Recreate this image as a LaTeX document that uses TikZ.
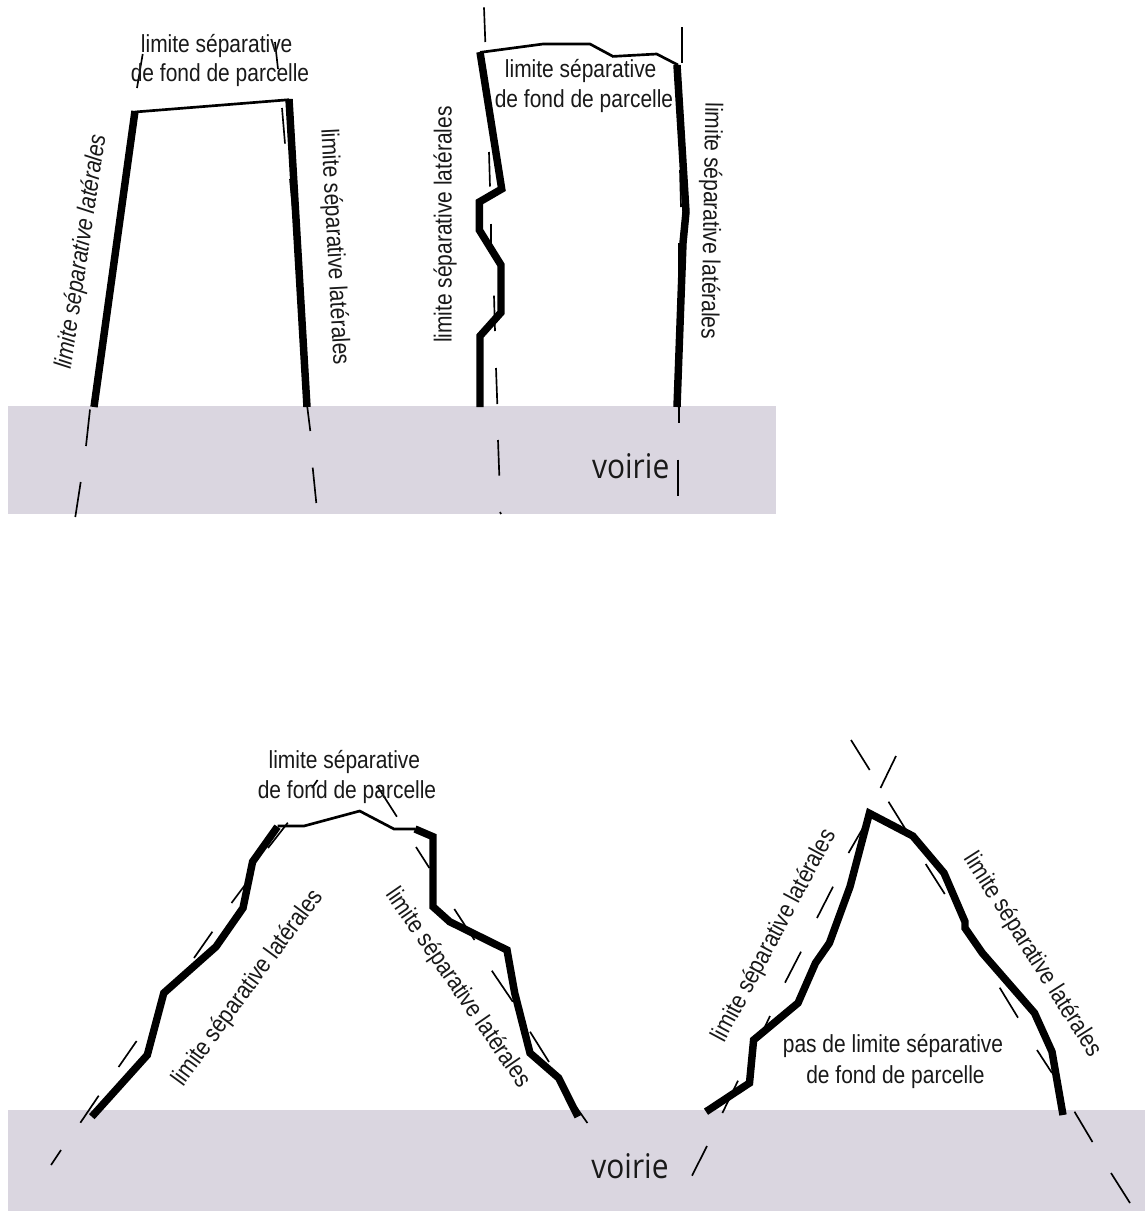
\documentclass[tikz,border=0pt]{standalone}
\usepackage{fontspec}
\setmainfont{Liberation Sans}
\newfontfamily\narrowfont[FakeStretch=0.85]{Liberation Sans}
\newfontfamily\voiriefont[FakeStretch=0.88]{Open Sans}
\definecolor{road}{HTML}{DAD6E0}
\tikzset{
  road/.style={fill=road,draw=none},
  wall/.style={draw=black,line width=5.6pt,line join=miter,miter limit=3},
  fondline/.style={draw=black,line width=2pt,line join=miter},
  tick/.style={draw=black,line width=1.25pt},
  lab/.style={font=\narrowfont\fontsize{18.5pt}{20pt}\selectfont,inner sep=0pt,text=black!90},
  vlab/.style={font=\voiriefont\fontsize{25.5pt}{28pt}\selectfont,inner sep=0pt,text=black!90}
}
\begin{document}
\begin{tikzpicture}[x=0.75pt,y=-0.75pt]
\useasboundingbox (0,0) rectangle (1145,1211);
\fill[white] (0,0) rectangle (1145,1211);
\fill[road] (8,406) rectangle (776,514);
\fill[road] (8,1110) rectangle (1145,1211);

% parcel 1
\draw[fondline] (135,112) -- (289,99.7);
\draw[wall] (135,111) -- (94,407);
\draw[wall] (289,99) -- (307,407);
\foreach \ax/\ay/\bx/\by in {142.7/54/137/88, 275/42/278/69, 282/108/285/143.6, 290/179/293.5/216,
  90/409.5/86/446, 80.7/482/75.3/517, 307.3/407/310.3/431, 312.7/467.6/316.3/503}
  {\draw[tick] (\ax,\ay) -- (\bx,\by);}
\node[lab] (a1) at (216.7,46) {limite séparative};
\node[lab] (a2) at (220,75) {de fond de parcelle};
\node[lab,rotate=81.5,font=\narrowfont\itshape\fontsize{18.5pt}{20pt}\selectfont] (a3) at (81.7,251.7) {limite séparative latérales};
\node[lab,rotate=-87] (a4) at (334,247) {limite séparative latérales};

% parcel 2
\draw[fondline] (480,52.4) -- (543,44) -- (590,44) -- (613,56.4) -- (656.7,54) -- (678,65);
\draw[wall] (480,52) -- (501.7,189) -- (479.3,202) -- (479.3,230) -- (501,265) -- (501,312.5) -- (480,336) -- (480,407);
\draw[wall] (677,65) -- (686,212) -- (683,243) -- (677,407);
\foreach \ax/\ay/\bx/\by in {484/7.4/485.3/42, 682/27/682/62.5, 489/152/490/186.5, 491.3/223.6/491.3/248,
  494/295.6/495/331, 496/368/497.3/404, 498/440/499.3/475.7, 500/512/501/514,
  678.7/407/678.7/423, 678/459.5/678/495.6, 680/170/681/207, 679/243/679/280}
  {\draw[tick] (\ax,\ay) -- (\bx,\by);}
\node[lab] (b1) at (580.7,71) {limite séparative};
\node[lab] (b2) at (584,100.7) {de fond de parcelle};
\node[lab,rotate=90] (b3) at (445,224.7) {limite séparative latérales};
\node[lab,rotate=-91] (b4) at (710,221) {limite séparative latérales};
\node[vlab] (v1) at (630.7,466) {voirie};

% parcel 3
\draw[fondline] (277.5,826) -- (304,826) -- (359.7,811) -- (394,829) -- (415,829);
\draw[wall] (91.8,1116.7) -- (147.3,1055) -- (163.8,993) -- (216,946.7) -- (243,908) -- (252.6,861.7) -- (277.5,826.7);
\draw[wall] (415,829) -- (433,836.7) -- (433,906.7) -- (449.7,921.7) -- (507,950) -- (514.7,993) -- (530,1053) -- (558.7,1078) -- (578,1116.7);
\foreach \ax/\ay/\bx/\by in {80.4/1122.7/98.7/1095.7, 51/1165/61/1150, 118.6/1067/136.6/1041, 194/958/212.4/931.7,
  231.5/903/245/885, 268/848/287.8/822.7, 312/788/317.6/780, 377.7/786.7/396.9/816.7,
  416/847/429.4/868, 454.3/909/474.5/940, 491.8/970.7/512.8/1001.7, 530/1031.7/549/1062, 576/1106.7/587.4/1123}
  {\draw[tick] (\ax,\ay) -- (\bx,\by);}
\node[lab] (c1) at (344.4,761.7) {limite séparative};
\node[lab] (c2) at (347,792.3) {de fond de parcelle};
\node[lab,rotate=53.7] (c3) at (248,988) {limite séparative latérales};
\node[lab,rotate=-55.4] (c4) at (458,988) {limite séparative latérales};
\node[vlab] (v2) at (630,1166) {voirie};

% parcel 4
\draw[wall] (706,1111.7) -- (749.5,1083) -- (753.6,1040) -- (798,1003) -- (815.5,963) -- (829.4,943) -- (850,886.7) -- (869.4,813.3)
  -- (912.8,836) -- (944,873) -- (965,921.7) -- (965,928) -- (982.3,953) -- (1034.5,1013) -- (1052,1051.7) -- (1063,1115);
\foreach \ax/\ay/\bx/\by in {851/740/869.7/770, 880.5/788/896/756, 888.5/801.7/906/830, 848.5/853/867.6/820,
  925.7/864/944.8/894, 817/918/833/886.7, 785/982.7/801/951.7, 999.7/987.7/1018/1017.7,
  763.4/1030/770/1016, 1037/1050/1052/1073, 722.4/1113/738/1080.7, 692/1175.7/707/1146,
  1074.5/1111.7/1092.5/1142, 1111/1173/1130/1203}
  {\draw[tick] (\ax,\ay) -- (\bx,\by);}
\node[lab,rotate=61.9] (d1) at (774.5,935.7) {limite séparative latérales};
\node[lab,rotate=-57.6] (d2) at (1032.7,955) {limite séparative latérales};
\node[lab] (d3) at (893,1046) {pas de limite séparative};
\node[lab] (d4) at (895.5,1076.7) {de fond de parcelle};
\end{tikzpicture}
\end{document}
